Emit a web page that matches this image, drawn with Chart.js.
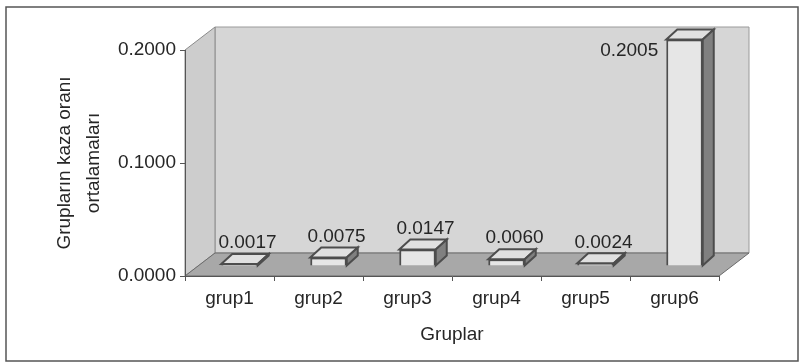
<!DOCTYPE html>
<html lang="tr">
<head>
<meta charset="UTF-8">
<title>Grupların kaza oranı ortalamaları</title>
<style>
  body { margin: 0; background: #fff; }
  #wrap { width: 800px; height: 363px; }
</style>
</head>
<body>
<div id="wrap"><canvas id="myChart" width="800" height="363"></canvas></div>
<script src="https://cdn.jsdelivr.net/npm/chart.js@4.4.0/dist/chart.umd.min.js"></script>
<script>
const groups = ['grup1', 'grup2', 'grup3', 'grup4', 'grup5', 'grup6'];
const meanRates = [0.0017, 0.0075, 0.0147, 0.0060, 0.0024, 0.2005];
const yTicks = [0, 0.1, 0.2];
const yTitle = ['Grupların kaza oranı', 'ortalamaları'];
const xTitle = 'Gruplar';

// depth of the 3D box, and where the columns sit inside it
const WALL_DX = 30, WALL_DY = -23;
const BAR_DX = 10, BAR_DY = -10;
const SIDE_DX = 11, SIDE_DY = -10;

const FONT = 'Liberation Sans, Arial, sans-serif';
const INK = '#262626';

function poly(ctx, pts, fill, stroke, lw) {
    ctx.beginPath();
    ctx.moveTo(pts[0][0], pts[0][1]);
    for (let i = 1; i < pts.length; i++) ctx.lineTo(pts[i][0], pts[i][1]);
    ctx.closePath();
    if (fill) { ctx.fillStyle = fill; ctx.fill(); }
    if (stroke) { ctx.strokeStyle = stroke; ctx.lineWidth = lw || 1; ctx.stroke(); }
}

const box3d = {
    id: 'box3d',
    beforeDraw(chart) {
        const ctx = chart.ctx, a = chart.chartArea;
        ctx.save();
        // frame round the whole figure
        ctx.strokeStyle = '#555';
        ctx.lineWidth = 1.5;
        ctx.strokeRect(6, 7, 792, 354);
        // back wall
        poly(ctx, [[a.left + WALL_DX, a.top + WALL_DY], [a.right + WALL_DX, a.top + WALL_DY],
                   [a.right + WALL_DX, a.bottom + WALL_DY], [a.left + WALL_DX, a.bottom + WALL_DY]],
             '#d6d6d6', '#9a9a9a');
        // left wall
        poly(ctx, [[a.left, a.top], [a.left + WALL_DX, a.top + WALL_DY],
                   [a.left + WALL_DX, a.bottom + WALL_DY], [a.left, a.bottom]],
             '#cdcdcd', '#8a8a8a');
        // floor
        poly(ctx, [[a.left, a.bottom], [a.left + WALL_DX, a.bottom + WALL_DY],
                   [a.right + WALL_DX, a.bottom + WALL_DY], [a.right, a.bottom]],
             '#a8a8a8', '#6a6a6a');
        ctx.restore();
    },
    beforeDatasetsDraw(chart) {
        chart.ctx.save();
        chart.ctx.translate(BAR_DX, BAR_DY);
    },
    afterDatasetsDraw(chart) {
        const ctx = chart.ctx, a = chart.chartArea;
        const bars = chart.getDatasetMeta(0).data;
        bars.forEach(bar => {
            const p = bar.getProps(['x', 'y', 'base', 'width'], true);
            const l = p.x - p.width / 2, r = p.x + p.width / 2;
            // top face
            poly(ctx, [[l, p.y], [r, p.y], [r + SIDE_DX, p.y + SIDE_DY], [l + SIDE_DX, p.y + SIDE_DY]],
                 '#e0e0e0', '#4d4d4d', 2);
            // side face
            poly(ctx, [[r, p.y], [r + SIDE_DX, p.y + SIDE_DY], [r + SIDE_DX, p.base + SIDE_DY], [r, p.base]],
                 '#808080', '#4d4d4d', 2);
        });
        ctx.restore();

        // value labels
        ctx.save();
        ctx.font = '19px ' + FONT;
        ctx.fillStyle = INK;
        ctx.textBaseline = 'middle';
        bars.forEach((bar, i) => {
            const p = bar.getProps(['x', 'y', 'width'], true);
            const txt = meanRates[i].toFixed(4);
            let tx = p.x + BAR_DX + 8, ty = p.y + BAR_DY - 21;
            if (ty < a.top) {
                ctx.textAlign = 'right';
                tx = p.x - p.width / 2 + BAR_DX - 8;
                ty = p.y + BAR_DY + 11;
            } else {
                ctx.textAlign = 'center';
            }
            ctx.fillText(txt, tx, ty);
        });
        ctx.restore();
    }
};

const ctx = document.getElementById('myChart').getContext('2d');
new Chart(ctx, {
    type: 'bar',
    data: {
        labels: groups,
        datasets: [{
            data: meanRates,
            backgroundColor: '#e6e6e6',
            borderColor: '#4d4d4d',
            borderWidth: 2,
            categoryPercentage: 1,
            barPercentage: 0.41,
            clip: false
        }]
    },
    options: {
        responsive: false,
        animation: false,
        layout: { padding: { top: 50, right: 81, left: 0, bottom: 0 } },
        plugins: { legend: { display: false }, tooltip: { enabled: false } },
        scales: {
            x: {
                afterFit(scale) { scale.height = 87; },
                grid: { drawOnChartArea: false, tickLength: 5, color: '#555' },
                border: { color: '#555', width: 1 },
                ticks: { color: INK, padding: 6, font: { family: FONT, size: 19 } },
                title: {
                    display: true, text: xTitle, color: INK,
                    font: { family: FONT, size: 19, lineHeight: 1.2 },
                    padding: { top: 0, bottom: 17 }
                }
            },
            y: {
                min: 0,
                max: 0.2,
                afterFit(scale) { scale.width = 185; },
                afterBuildTicks(scale) { scale.ticks = yTicks.map(v => ({ value: v })); },
                grid: { drawOnChartArea: false, tickLength: 5, color: '#555' },
                border: { color: '#555', width: 1 },
                ticks: {
                    color: INK, padding: 4, font: { family: FONT, size: 19 },
                    callback: v => Number(v).toFixed(4)
                },
                title: {
                    display: true, text: yTitle, color: INK,
                    font: { family: FONT, size: 19, lineHeight: 1.5 },
                    padding: { top: 51, bottom: 0 }
                }
            }
        }
    },
    plugins: [box3d]
});
</script>
</body>
</html>
